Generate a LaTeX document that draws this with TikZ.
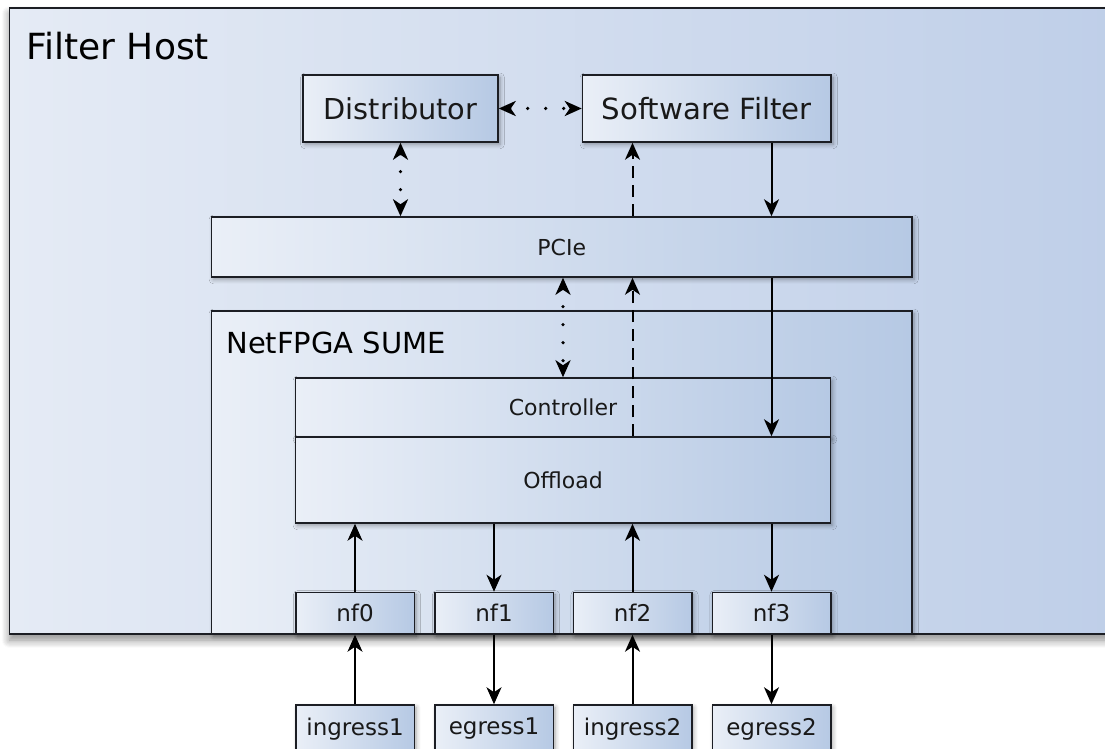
\documentclass[tikz,border=0pt]{standalone}
\usepackage{fontspec}
\setmainfont{DejaVu Sans}
\usetikzlibrary{arrows.meta,shadows.blur}

\definecolor{boxlight}{RGB}{234,239,247}
\definecolor{boxdark}{RGB}{182,201,228}
\definecolor{hostlight}{RGB}{229,235,245}
\definecolor{hostdark}{RGB}{190,206,232}
\definecolor{edgecol}{RGB}{28,30,36}

\tikzset{
  unit/.style={draw=edgecol, line width=0.75pt, left color=boxlight, right color=boxdark,
    inner sep=0pt, text=black!90,
    blur shadow={shadow xshift=1pt, shadow yshift=-1.2pt, shadow blur steps=6, shadow opacity=35}},
  hostbox/.style={unit, left color=hostlight, right color=hostdark,
    blur shadow={shadow xshift=0pt, shadow yshift=-3pt, shadow blur radius=4pt, shadow blur steps=8, shadow opacity=25}},
  port/.style={unit, minimum width=59.25pt, font=\fontsize{11.5}{13}\selectfont},
  flow/.style={line width=1pt, -{Stealth[length=8.5pt, width=7.5pt, inset=2.5pt]}},
  dualdot/.style={line width=1.8pt, line cap=round, dash pattern=on 0pt off 9pt,
    {Stealth[length=8.5pt, width=7.5pt, inset=2.5pt]}-{Stealth[length=8.5pt, width=7.5pt, inset=2.5pt]}},
  dashflow/.style={flow, dash pattern=on 6pt off 3.5pt}
}

\begin{document}
\begin{tikzpicture}[x=0.5pt, y=-0.5pt]
  \useasboundingbox (0,0) rectangle (1105,749);

  % host and card
  \node[hostbox, minimum width=565.25pt, minimum height=313pt] (host) at (574.75,321) {};
  \node[anchor=base west, inner sep=0pt, font=\fontsize{18}{20}\selectfont] (hostlabel) at (26,60) {Filter Host};

  \node[unit, minimum width=97.5pt, minimum height=33.5pt, font=\fontsize{14.4}{16}\selectfont] (dist) at (400.5,108.5) {Distributor};
  \node[unit, minimum width=124.25pt, minimum height=33.5pt, font=\fontsize{14.6}{16}\selectfont] (soft) at (706.75,108.5) {Software Filter};
  \node[unit, minimum width=350.25pt, minimum height=30pt, font=\fontsize{11}{13}\selectfont] (pcie) at (561.75,247) {PCIe};

  \node[unit, minimum width=350.25pt, minimum height=161.5pt] (sume) at (561.75,472.5) {};
  \node[anchor=base west, inner sep=0pt, font=\fontsize{14.5}{16}\selectfont] (sumelabel) at (226,354) {NetFPGA SUME};

  \node[unit, minimum width=267.5pt, minimum height=29.5pt, font=\fontsize{11}{13}\selectfont] (ctrl) at (563,407.5) {Controller};
  \node[unit, minimum width=267.5pt, minimum height=43pt, font=\fontsize{11}{13}\selectfont] (offl) at (563,480) {Offload};

  % interfaces
  \foreach \i/\x in {0/355, 1/494, 2/632.5, 3/771.5} {
    \node[port, minimum height=20.75pt] (nf\i) at (\x,613.25) {nf\i};
  }
  \node[port, minimum height=24pt] (in1) at (355,729) {ingress1};
  \node[port, minimum height=24pt] (eg1) at (494,729) {egress1};
  \node[port, minimum height=24pt] (in2) at (632.5,729) {ingress2};
  \node[port, minimum height=24pt] (eg2) at (771.5,729) {egress2};

  % host side
  \draw[dualdot] (dist.east) -- (soft.west);
  \draw[dualdot] (dist.south) -- (dist.south |- pcie.north);
  \draw[flow] (nf3 |- soft.south) -- (nf3 |- pcie.north);
  \draw[dashflow] (nf2 |- pcie.north) -- (nf2 |- soft.south);

  % card side
  \draw[dualdot] (ctrl.north |- pcie.south) -- (ctrl.north);
  \draw[flow] (nf3 |- pcie.south) -- (nf3 |- offl.north);
  \draw[dashflow] (nf2 |- offl.north) -- (nf2 |- pcie.south);

  \draw[flow] (nf0.north) -- (nf0 |- offl.south);
  \draw[flow] (nf1 |- offl.south) -- (nf1.north);
  \draw[flow] (nf2.north) -- (nf2 |- offl.south);
  \draw[flow] (nf3 |- offl.south) -- (nf3.north);

  % ports
  \draw[flow] (in1.north) -- (nf0.south);
  \draw[flow] (nf1.south) -- (eg1.north);
  \draw[flow] (in2.north) -- (nf2.south);
  \draw[flow] (nf3.south) -- (eg2.north);
\end{tikzpicture}
\end{document}
